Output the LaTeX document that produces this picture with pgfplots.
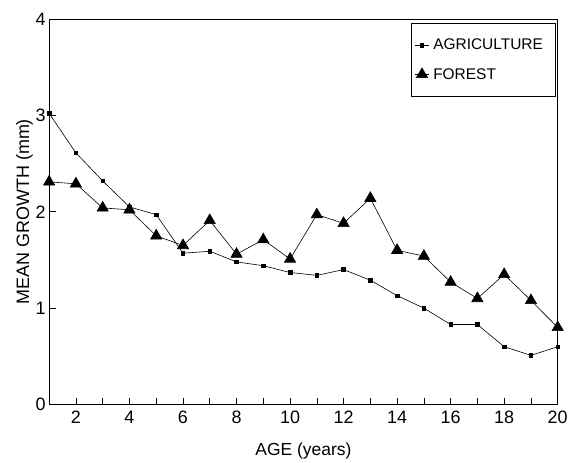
\documentclass[border=0pt]{standalone}
\usepackage{fontspec}
\setmainfont{Liberation Sans}
\usepackage{pgfplots}
\pgfplotsset{compat=1.18}
\newcommand{\chartfont}{\fontsize{18}{21}\selectfont}
\newcommand{\labfont}{\fontsize{17.5}{21}\selectfont}
\newcommand{\legfont}{\fontsize{15.5}{18}\selectfont}

\pgfplotstableread{
age agri forest
1  3.02 2.31
2  2.61 2.29
3  2.32 2.04
4  2.05 2.02
5  1.97 1.75
6  1.57 1.65
7  1.59 1.91
8  1.48 1.56
9  1.44 1.71
10 1.37 1.51
11 1.34 1.97
12 1.40 1.88
13 1.29 2.14
14 1.13 1.60
15 1.00 1.54
16 0.83 1.27
17 0.83 1.10
18 0.60 1.35
19 0.51 1.08
20 0.60 0.80
}\growth

\begin{document}
\begin{tikzpicture}
\begin{axis}[
  at={(0pt,0pt)}, anchor=south west,
  scale only axis,
  width=510pt, height=386.7pt,
  xmin=1, xmax=20, ymin=0, ymax=4,
  xtick={2,4,...,20},
  minor xtick={1,3,...,19},
  ytick={0,1,2,3,4},
  tick pos=left,
  tick align=inside,
  xtick style={black, line width=0.6pt},
  ytick style={black, line width=0.6pt},
  x tick label style={yshift=-3pt},
  major tick length=7pt,
  minor tick length=7pt,
  axis line style={black, line width=0.8pt},
  /pgf/number format/assume math mode=true,
  tick label style={font=\chartfont},
  xlabel style={font=\labfont, yshift=-12pt},
  ylabel style={font=\chartfont, yshift=-4pt},
  xlabel={AGE (years)},
  ylabel={MEAN GROWTH (mm)},
  legend style={font=\legfont, at={(rel axis cs:0.995,0.99)}, anchor=north east,
    draw=black, line width=0.6pt, inner xsep=3pt, inner ysep=14pt, row sep=13pt,
    cells={anchor=west}, nodes={inner xsep=4pt}},
  legend image code/.code={
    \draw[mark repeat=2, mark phase=2] plot coordinates {(0pt,0pt) (7pt,0pt) (14pt,0pt)};
  },
]
\addplot[black, line width=0.6pt, mark=square*, mark size=1.8pt] table[x=age, y=agri] {\growth};
\addlegendentry{AGRICULTURE\hspace*{5pt}}
\addplot[black, line width=0.6pt, mark=triangle*, mark size=6.5pt] table[x=age, y=forest] {\growth};
\addlegendentry{FOREST}
\end{axis}
\path (-49.3pt,-57.3pt) rectangle (521.7pt,405.7pt);
\end{tikzpicture}
\end{document}
